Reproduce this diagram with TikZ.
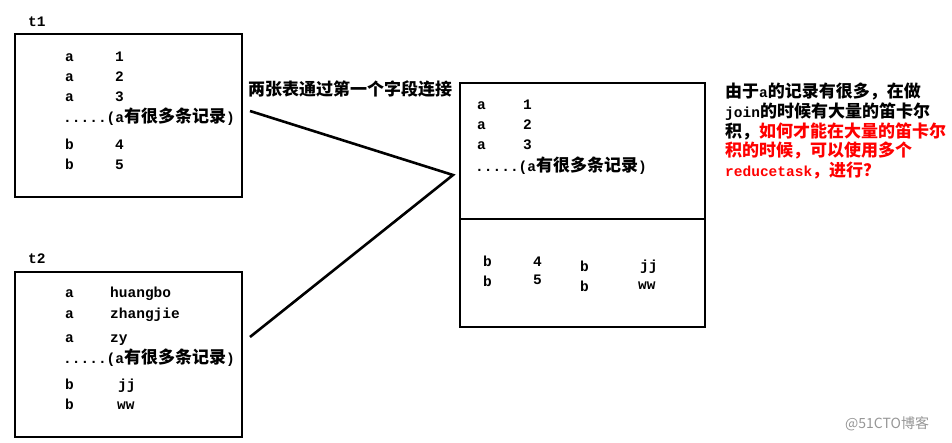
\documentclass[tikz,border=0pt]{standalone}
\usepackage{fontspec}
\setmainfont{Liberation Mono}
\newfontfamily\cjk{Noto Sans CJK SC}
\newcommand\zh[1]{{\cjk\fontsize{17}{19}\selectfont #1}}
\definecolor{wm}{RGB}{150,150,150}
\begin{document}
\begin{tikzpicture}[x=1pt,y=-1pt,
  tx/.style={anchor=base west, inner sep=0pt, font=\fontsize{14.5}{17}\selectfont\bfseries},
  box/.style={draw, line width=2.6pt, inner sep=0pt},
  conn/.style={line width=2.6pt}]
\useasboundingbox (0,0) rectangle (952,443);
% boxes
\node[box, minimum width=227pt, minimum height=163pt] (t1) at (128.5,115.5) {};
\node[box, minimum width=227pt, minimum height=165pt] (t2) at (128.5,354.5) {};
\node[box, minimum width=245pt, minimum height=136pt] (r1) at (582.5,151) {};
\node[box, minimum width=245pt, minimum height=108pt] (r2) at (582.5,273) {};
% table labels
\node[tx] (l1) at (28,27) {t1};
\node[tx] (l2) at (28,264) {t2};
% t1 contents
\node[tx] (a1) at (65,62) {a};  \node[tx] (v1) at (115,62) {1};
\node[tx] (a2) at (65,82) {a};  \node[tx] (v2) at (115,82) {2};
\node[tx] (a3) at (65,102) {a}; \node[tx] (v3) at (115,102) {3};
\node[tx] (d1) at (63,123) {.....(a\zh{有很多条记录})};
\node[tx] (b1) at (65,150) {b}; \node[tx] (v4) at (115,150) {4};
\node[tx] (b2) at (65,170) {b}; \node[tx] (v5) at (115,170) {5};
% t2 contents
\node[tx] (c1) at (65,298) {a}; \node[tx] (w1) at (110,298) {huangbo};
\node[tx] (c2) at (65,319) {a}; \node[tx] (w2) at (110,319) {zhangjie};
\node[tx] (c3) at (65,342) {a}; \node[tx] (w3) at (110,342) {zy};
\node[tx] (d2) at (63,363) {.....(a\zh{有很多条记录})};
\node[tx] (c4) at (65,389) {b}; \node[tx] (w4) at (118,389) {jj};
\node[tx] (c5) at (65,409) {b}; \node[tx] (w5) at (117,409) {ww};
% join label
\node[tx] (jl) at (248,96) {\zh{两张表通过第一个字段连接}};
% connectors
\coordinate (s1) at (250,111);
\coordinate (s2) at (250,337);
\coordinate (j) at (453,175);
\draw[conn] (s1) -- (j) -- (s2);
% right box contents
\node[tx] (ra1) at (477,110) {a}; \node[tx] (rv1) at (523,110) {1};
\node[tx] (ra2) at (477,130) {a}; \node[tx] (rv2) at (523,130) {2};
\node[tx] (ra3) at (477,150) {a}; \node[tx] (rv3) at (523,150) {3};
\node[tx] (rd) at (475,172) {.....(a\zh{有很多条记录})};
\node[tx] (rb1) at (483,267) {b}; \node[tx] (rv4) at (533,267) {4};
\node[tx] (rb2) at (483,287) {b}; \node[tx] (rv5) at (533,285) {5};
\node[tx] (rb3) at (580,272) {b}; \node[tx] (rw1) at (640,271) {jj};
\node[tx] (rb4) at (580,292) {b}; \node[tx] (rw2) at (638,290) {ww};
% note
\node[tx] (n1) at (725,98) {\zh{由于}a\zh{的记录有很多，在做}};
\node[tx] (n2) at (725,118) {join\zh{的时候有大量的笛卡尔}};
\node[tx] (n3) at (725,138) {\zh{积，}\textcolor{red}{\zh{如何才能在大量的笛卡尔}}};
\node[tx, text=red] (n4) at (725,157) {\zh{积的时候，可以使用多个}};
\node[tx, text=red] (n5) at (725,177) {reducetask\zh{，进行？}};
% watermark
\node[anchor=base west, inner sep=0pt, text=wm, font=\cjk\fontsize{14}{16}\selectfont] (wmk) at (845,428) {@51CTO博客};
\end{tikzpicture}
\end{document}
